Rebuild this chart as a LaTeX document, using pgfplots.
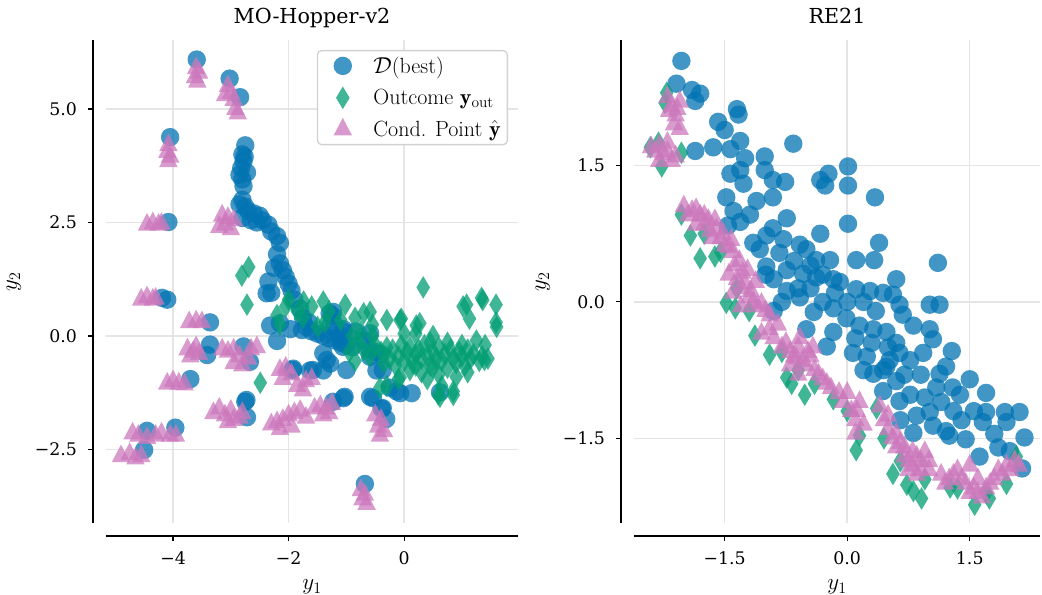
\documentclass[border=0pt]{standalone}
\usepackage{pgfplots}
\pgfplotsset{compat=1.18}
\usepackage{fontspec}
\newfontfamily\dejavu{DejaVu Serif}

\definecolor{cbblue}{HTML}{0173B2}
\definecolor{cbgreen}{HTML}{029E73}
\definecolor{cbpink}{HTML}{CC78BC}

\pgfplotsset{
  panel/.style={
    scale only axis, height=362.25pt,
    axis x line*=bottom, axis y line*=left,
    axis x line shift=9.75pt, axis y line shift=9.75pt,
    axis line style={-, line width=1pt, black},
    tick align=outside, major tick length=3.5pt,
    tick style={black, line width=0.8pt},
    xmajorgrids, ymajorgrids,
    grid style={black!10, line width=1.1pt},
    tick label style={font=\dejavu\fontsize{13}{15}\selectfont},
    xticklabel style={yshift=-4.5pt},
    yticklabel style={xshift=-5pt},
    title style={font=\dejavu\fontsize{15.5}{18}\selectfont, at={(0.5,1)}, anchor=base, yshift=6.5pt},
    every axis x label/.style={at={(rel axis cs:0.5,0)}, anchor=center, yshift=-48pt},
    every axis y label/.style={at={(rel axis cs:0,0.5)}, anchor=center, xshift=-69pt, rotate=90},
  },
  dbest/.style={only marks, mark=*, mark size=6.9pt,
    mark options={draw opacity=0, fill=cbblue, fill opacity=0.75}},
  yout/.style={only marks, mark=diamond*, mark size=8.5pt,
    mark options={xscale=0.8, draw opacity=0, fill=cbgreen, fill opacity=0.75}},
  ycond/.style={only marks, mark=triangle*, mark size=8pt,
    mark options={yscale=1.1, draw opacity=0, fill=cbpink, fill opacity=0.75}},
}

\begin{document}
\begin{tikzpicture}
\useasboundingbox (0,0) rectangle (781.5pt,446.25pt);

% ---------------- MO-Hopper-v2
\begin{axis}[panel,
  at={(79.5pt,54pt)}, anchor=south west, width=309pt,
  xmin=-5.16, xmax=1.97, ymin=-4.12, ymax=6.52,
  xtick={-4,-2,0}, xticklabels={−4,−2,0},
  ytick={-2.5,0,2.5,5}, yticklabels={−2.5,0.0,2.5,5.0},
  title={MO-Hopper-v2},
  xlabel={\fontsize{17}{19}\selectfont$y_1$}, ylabel={\fontsize{17}{19}\selectfont$y_2$},
  legend cell align=left,
  legend image code/.code={\path[draw=none] (0pt,0pt) -- (37pt,0pt);
    \draw[#1] plot coordinates {(16pt,0pt)};},
  legend style={at={(1,1)}, anchor=north east, xshift=-7.5pt, yshift=-7.5pt,
    draw=black!18, line width=1pt, rounded corners=3pt, fill=white,
    font=\fontsize{16.5}{19}\selectfont, row sep=6.5pt, inner xsep=3pt, inner ysep=2.5pt},
]
\addplot[dbest] coordinates {
(-3.59,6.09) (-3.02,5.67) (-2.84,5.26) (-4.05,4.38) (-4.08,2.51) (-4.10,0.80) (-4.19,0.84)
(-3.36,0.30) (-3.36,-0.19) (-3.41,-0.42) (-2.78,-0.23) (-2.67,-0.57) (-3.70,-0.95)
(-2.75,-1.45) (-2.72,-1.79) (-3.96,-2.02) (-4.45,-2.09) (-4.50,-2.51) (-1.92,-0.72)
(-1.05,-1.37) (-1.23,-1.45) (-0.39,-1.60) (-0.31,-1.83) (-0.68,-3.26)
(-2.75,4.20) (-2.80,4.00) (-2.78,3.85) (-2.82,3.70) (-2.85,3.55) (-2.80,3.45) (-2.78,3.30)
(-2.72,3.60) (-2.76,3.95)
(-2.80,3.00) (-2.75,2.85) (-2.70,2.75) (-2.60,2.70) (-2.50,2.65) (-2.45,2.55) (-2.35,2.45)
(-2.30,2.30) (-2.20,2.20) (-2.15,2.05) (-2.85,2.90) (-2.65,2.55) (-2.55,2.50) (-2.80,2.60)
(-2.20,1.80) (-2.15,1.60) (-2.10,1.45) (-2.05,1.30) (-2.00,1.15) (-1.95,1.00) (-2.25,1.50)
(-2.35,1.20) (-2.30,0.95)
(-2.38,0.94) (-2.32,0.23) (-2.15,0.28) (-1.77,0.13) (-1.29,0.50) (-1.11,-0.01) (-1.06,-0.24)
(-1.34,-0.53) (-1.58,-0.75) (-1.00,-0.75) (-1.03,-1.34) (-0.59,-1.34) (-0.59,0.06)
(-0.37,-0.75) (-0.07,-1.26) (0.13,-1.26) (-0.37,-1.59) (0.62,-1.24) (-2.73,-1.41) (-1.93,-0.75)
(-1.90,0.80) (-1.80,0.60) (-1.75,0.40) (-1.70,0.20) (-1.60,0.10) (-1.65,0.30) (-1.50,0.05)
(-1.40,0.00) (-1.30,-0.05) (-1.20,-0.10) (-1.10,-0.15) (-1.00,-0.20) (-0.90,-0.25)
(-1.20,0.25) (-1.05,0.10) (-0.85,0.10) (-0.70,-0.10) (-0.60,-0.30) (-0.50,-0.35)
(-0.40,-0.40) (-1.25,0.45)
(-2.20,-0.11) (-1.97,0.15) (-1.40,-0.38) (-1.28,-0.61) (-1.40,-0.76) (-1.63,-0.76)
(-0.54,-1.37) (-0.13,-1.22) (-0.25,-1.14) (-0.48,-0.76) (-0.59,-0.46) (-1.05,0.15)
(-1.23,0.53) (-1.28,0.23)
};
\addlegendentry{$\mathcal{D}$(best)}
\addplot[yout] coordinates {
(-2.81,1.33) (-2.69,1.52) (-2.72,0.69) (-2.49,-1.03)
(-2.00,0.80) (-1.74,0.76) (-2.20,0.46) (-1.40,0.76) (-1.37,0.30) (-1.02,0.69) (-0.59,0.53)
(0.33,1.07) (-0.05,0.38) (0.21,0.23) (1.08,0.69) (1.34,0.84) (1.59,0.69) (1.59,0.30)
(1.13,0.38) (1.39,-0.53) (0.59,-1.29) (0.85,-1.22) (-0.42,-1.14) (-0.07,-0.91)
(-0.07,0.35) (0.27,0.28) (1.02,0.65) (1.60,0.20) (1.36,0.79) (0.62,-1.34)
(-1.30,0.55) (-1.10,0.35) (-0.85,0.40) (-0.70,0.50) (-0.55,0.25) (-0.30,0.35) (-1.50,0.20)
(-1.75,0.40) (-1.85,0.55) (-2.05,0.65) (-2.15,0.25) (-1.60,0.65)
(-0.50,-0.20) (-0.40,-0.35) (-0.30,-0.25) (-0.25,-0.50) (-0.20,-0.30) (-0.10,-0.45)
(-0.05,-0.20) (0.00,-0.55) (0.05,-0.35) (0.10,-0.25) (0.15,-0.60) (0.20,-0.40) (0.25,-0.30)
(0.30,-0.50) (0.35,-0.20) (0.40,-0.45) (0.45,-0.65) (0.50,-0.35) (0.55,-0.50) (0.60,-0.25)
(0.65,-0.55) (0.70,-0.40) (0.75,-0.70) (0.80,-0.30) (0.85,-0.50) (0.90,-0.60) (0.95,-0.35)
(1.00,-0.45) (1.05,-0.65) (1.10,-0.30) (1.15,-0.50) (1.20,-0.40) (1.30,-0.55) (1.35,-0.45)
(1.45,-0.50) (0.10,-0.75) (0.30,-0.80) (0.60,-0.85) (0.90,-0.90) (1.10,-0.80) (0.45,-0.15)
(0.75,-0.15) (1.00,-0.20) (0.20,-0.65) (0.50,-0.70) (-0.15,-0.65) (-0.35,-0.60) (-0.60,-0.45)
(-0.70,-0.30) (-0.80,-0.15) (-0.90,0.00) (-0.75,0.10) (-0.55,0.00) (-0.95,-0.35) (-0.85,-0.55)
(0.85,-1.30) (0.65,-1.10) (0.40,-0.95) (-0.10,-0.95) (-0.30,-1.10) (0.00,0.05) (0.50,0.00)
(0.20,0.05) (1.25,-0.10) (1.40,-0.20)
};
\addlegendentry{Outcome $\mathbf{y}_{\mathrm{out}}$}
\addplot[ycond] coordinates {
(-3.60,5.90) (-3.55,5.80) (-3.62,5.70) (-3.58,5.60)
(-3.05,5.50) (-3.00,5.35) (-2.95,5.20) (-2.92,5.00) (-2.88,4.90) (-3.10,5.30)
(-4.08,4.20) (-4.10,4.05) (-4.05,3.95) (-4.08,3.85)
(-4.45,2.45) (-4.35,2.48) (-4.25,2.45) (-4.20,2.47)
(-4.55,0.80) (-4.45,0.85) (-4.35,0.80) (-4.30,0.82)
(-3.72,0.30) (-3.60,0.32) (-3.50,0.30)
(-3.75,-0.30) (-3.65,-0.35) (-3.70,-0.45) (-3.60,-0.25) (-3.55,-0.40)
(-3.15,-0.30) (-3.05,-0.35) (-2.95,-0.30) (-2.85,-0.45) (-2.95,-0.60) (-2.80,-0.65)
(-2.65,-0.30) (-2.55,-0.25) (-2.70,-0.50)
(-4.10,-1.05) (-4.00,-1.00) (-3.90,-1.05) (-3.80,-1.07)
(-3.30,-1.70) (-3.20,-1.60) (-3.10,-1.75) (-3.00,-1.65) (-2.95,-1.85) (-3.05,-1.90)
(-2.85,-1.80) (-2.80,-1.70)
(-4.70,-2.15) (-4.60,-2.20) (-4.45,-2.25) (-4.30,-2.20) (-4.20,-2.15) (-4.05,-2.20) (-3.95,-2.20)
(-4.90,-2.65) (-4.75,-2.60) (-4.65,-2.70) (-4.55,-2.65)
(-2.30,-1.95) (-2.20,-1.90) (-2.10,-1.85) (-2.00,-1.75) (-1.90,-1.70) (-1.80,-1.65)
(-2.15,-2.05) (-1.95,-2.00) (-1.70,-1.80)
(-2.15,-0.75) (-2.05,-0.70) (-1.95,-0.85) (-2.10,-0.95)
(-1.85,-1.10) (-1.70,-1.00) (-1.75,-1.20) (-1.60,-0.95)
(-1.55,-1.60) (-1.45,-1.55) (-1.35,-1.60) (-1.25,-1.50) (-1.40,-1.75) (-1.30,-1.70)
(-0.50,-1.75) (-0.40,-1.85) (-0.45,-2.00) (-0.35,-2.10) (-0.42,-2.20)
(-0.75,-3.40) (-0.68,-3.50) (-0.72,-3.60) (-0.65,-3.70)
(-3.15,2.65) (-3.05,2.60) (-3.10,2.45) (-3.00,2.35) (-2.95,2.55) (-3.20,2.40)
};
\addlegendentry{Cond. Point $\hat{\mathbf{y}}$}
\end{axis}

% ---------------- RE21
\begin{axis}[panel,
  at={(475.5pt,54pt)}, anchor=south west, width=304.5pt,
  xmin=-2.61, xmax=2.36, ymin=-2.43, ymax=2.88,
  xtick={-1.5,0,1.5}, xticklabels={−1.5,0.0,1.5},
  ytick={-1.5,0,1.5}, yticklabels={−1.5,0.0,1.5},
  title={RE21},
  xlabel={\fontsize{17}{19}\selectfont$y_1$}, ylabel={\fontsize{17}{19}\selectfont$y_2$},
  every axis y label/.style={at={(rel axis cs:0,0.5)}, anchor=center, xshift=-68.25pt, rotate=90},
]
\addplot[dbest] coordinates {
(-2.03,2.65) (-2.09,2.40) (-1.90,2.33) (-1.80,2.29) (-1.86,2.21) (-1.35,2.12) (-1.33,2.06)
(-1.58,1.98) (-1.50,1.89) (-1.86,1.66) (-1.64,1.70) (-1.31,1.77) (-0.66,1.74) (-1.43,1.68)
(-1.25,1.58) (-1.43,1.41) (-1.31,1.45) (-1.01,1.60) (-1.01,1.45) (-0.91,1.34) (-0.76,1.32)
(-0.33,1.34) (-0.23,1.41) (-0.27,1.28) (0.01,1.49) (0.01,1.28) (0.34,1.15) (-1.48,1.15)
(-1.27,1.30) (-1.11,1.11) (-0.91,1.15) (-1.39,1.00) (-1.31,0.88) (-1.46,0.84) (-1.19,0.96)
(-0.74,0.92) (-0.91,0.81) (-0.33,0.75) (0.01,0.86) (0.39,0.65) (-1.15,0.65) (-0.99,0.73)
(-0.78,0.69) (-0.58,0.63) (-0.50,0.58) (-1.07,0.58) (-0.83,0.54) (-0.38,0.46) (-0.21,0.46)
(0.11,0.46) (0.33,0.46) (0.60,0.25) (1.11,0.43) (-0.99,0.39) (-0.74,0.35) (-0.54,0.31)
(-0.38,0.27) (-0.17,0.25) (-0.09,0.22) (0.11,0.14) (0.28,0.12) (0.44,0.10) (0.56,0.08)
(0.64,-0.03) (0.68,-0.14) (1.01,-0.03) (1.13,-0.03) (-0.74,0.12) (-0.58,0.05) (-0.41,-0.11)
(-0.17,-0.07) (-0.01,-0.18) (0.15,-0.26) (0.32,-0.30) (0.48,-0.33) (0.60,-0.45) (0.81,-0.26)
(1.01,-0.30) (1.05,-0.41) (0.93,-0.56) (0.77,-0.64) (0.52,-0.64) (0.44,-0.75) (0.24,-0.60)
(0.07,-0.56) (-0.17,-0.33) (-0.25,-0.49) (-0.50,-0.30) (1.28,-0.54) (1.21,-0.71) (1.13,-0.79)
(1.09,-0.94) (1.29,-0.94) (1.38,-1.02) (1.50,-0.85) (1.70,-1.00) (1.70,-1.21) (1.66,-1.32)
(1.93,-1.21) (2.11,-1.21) (1.95,-1.32) (2.17,-1.49) (1.99,-1.64) (2.14,-1.83) (1.01,-1.21)
(1.05,-1.36) (1.21,-1.42) (1.25,-1.47) (1.45,-1.51) (1.62,-1.70) (0.77,-1.02) (0.60,-0.87)
(0.44,-0.98) (0.64,-1.09) (0.85,-1.25) (0.81,-1.44) (0.48,-0.71) (0.64,-0.56) (0.32,-0.79)
(-1.00,0.30) (-0.90,0.25) (-0.65,0.45) (-0.45,0.40) (-0.30,0.30) (-0.60,0.15) (-0.45,0.15)
(-0.30,0.00) (-0.15,0.10) (0.00,0.00) (0.20,0.00) (0.35,-0.10) (-0.80,0.00) (-0.90,-0.10)
(0.10,-0.40) (0.30,-0.45) (0.20,-0.75) (0.50,-0.50) (0.70,-0.80) (0.90,-0.80) (0.95,-1.05)
(0.65,-1.30) (1.15,-1.10) (1.40,-1.30) (1.30,-1.20) (1.55,-1.20) (1.80,-1.45) (1.85,-1.60)
};
\addplot[yout] coordinates {
(-2.21,2.30) (-2.23,2.19) (-2.41,1.70) (-2.27,1.49) (-2.31,1.75) (-2.03,1.64)
(-2.03,0.96) (-1.92,0.73) (-1.80,0.48) (-1.62,0.50) (-1.48,-0.01) (-1.37,-0.07)
(-1.13,-0.37) (-0.95,-0.58) (-0.68,-0.90) (-0.52,-1.02) (-0.17,-1.07) (0.11,-1.63)
(0.15,-1.47) (0.56,-1.89) (0.73,-2.01) (0.91,-2.16) (0.81,-2.08) (1.26,-2.04) (1.56,-2.23)
(1.74,-2.16) (2.07,-1.70) (-0.74,-0.83) (0.36,-1.17)
(-1.75,0.75) (-1.55,0.55) (-1.35,0.15) (-1.20,-0.10) (-0.80,-0.55) (-0.60,-0.75)
(-0.40,-0.90) (0.00,-1.20) (0.45,-1.50) (0.65,-1.75) (0.95,-1.95) (1.35,-2.05) (1.70,-2.10)
(1.95,-2.00)
};
\addplot[ycond] coordinates {
(-2.20,2.25) (-2.15,2.15) (-2.10,2.05) (-2.05,2.20) (-2.12,1.95) (-2.05,1.90)
(-2.18,2.10) (-2.08,2.12)
(-2.40,1.70) (-2.30,1.72) (-2.20,1.65) (-2.15,1.55) (-2.30,1.55) (-2.20,1.75) (-2.10,1.60)
(-2.25,1.62) (-2.35,1.65)
(-2.00,1.05) (-1.90,1.00) (-1.80,0.95) (-1.75,0.85) (-1.70,0.90) (-1.60,0.80) (-1.55,0.70)
(-1.45,0.60) (-1.40,0.55) (-1.65,0.70) (-1.85,0.85) (-1.95,0.95) (-1.75,0.95) (-1.68,0.78)
(-1.50,0.62) (-1.85,1.02) (-1.62,0.90) (-1.52,0.75) (-1.42,0.68)
(-1.45,0.30) (-1.35,0.25) (-1.30,0.15) (-1.25,0.20) (-1.20,0.05) (-1.15,0.00) (-1.10,-0.05)
(-1.00,-0.10) (-0.95,-0.15) (-1.30,-0.05) (-1.40,0.10) (-1.38,0.40) (-1.28,0.32)
(-1.18,0.12) (-1.05,-0.02) (-1.32,0.45) (-1.22,0.35) (-1.12,0.22)
(-1.05,-0.35) (-0.95,-0.30) (-0.90,-0.40) (-0.85,-0.25)
(-0.75,-0.45) (-0.70,-0.55) (-0.65,-0.60) (-0.60,-0.50) (-0.55,-0.65) (-0.50,-0.70)
(-0.45,-0.60) (-0.40,-0.75) (-0.35,-0.80) (-0.30,-0.85) (-0.60,-0.80) (-0.70,-0.70)
(-0.80,-0.50) (-0.62,-0.62) (-0.48,-0.55) (-0.25,-0.90) (-0.58,-0.40) (-0.42,-0.50)
(-0.20,-0.95) (-0.10,-1.00) (-0.05,-1.10) (0.00,-1.00) (0.05,-1.20) (0.10,-1.30) (0.15,-1.10)
(0.10,-1.45) (0.20,-1.35) (0.12,-1.20)
(0.40,-1.15) (0.45,-1.30) (0.50,-1.40) (0.55,-1.50) (0.60,-1.60) (0.65,-1.55) (0.70,-1.70)
(0.75,-1.75) (0.80,-1.80) (0.85,-1.70) (0.90,-1.85) (0.95,-1.65) (1.00,-1.75)
(0.50,-1.25) (0.60,-1.45) (0.70,-1.60) (0.80,-1.65) (0.90,-1.75) (1.00,-1.85) (0.85,-1.90)
(0.75,-1.85)
(1.15,-1.90) (1.25,-1.95) (1.35,-1.85) (1.45,-2.00) (1.55,-2.05) (1.60,-1.95) (1.70,-2.05)
(1.80,-1.95) (1.90,-1.90) (2.00,-1.85) (2.10,-1.80) (1.50,-1.80) (1.65,-2.15) (1.40,-1.95)
(1.20,-2.00) (1.30,-1.90) (1.50,-2.10) (1.60,-2.10) (1.75,-2.00) (1.85,-1.85) (1.95,-1.80)
(2.05,-1.75)
};
\end{axis}
\end{tikzpicture}
\end{document}
